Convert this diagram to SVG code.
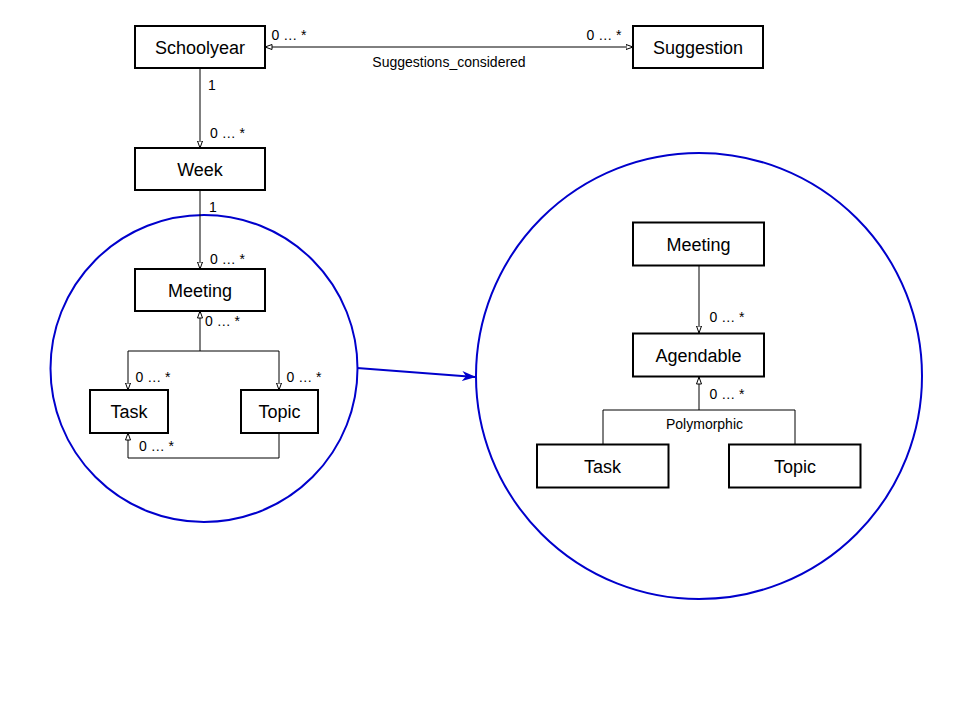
<svg xmlns="http://www.w3.org/2000/svg" width="975" height="719" viewBox="0 0 975 719">
<style>
.box{fill:#fff;stroke:#000;stroke-width:2}
.name{font-family:"Liberation Sans",Arial,sans-serif;font-size:18px;fill:#000;text-anchor:middle}
.lbl{font-family:"Liberation Sans",Arial,sans-serif;font-size:14px;fill:#000}
.conn{fill:none;stroke:#000;stroke-width:1}
.blue{fill:none;stroke:#0000cc;stroke-width:2}
</style>
<defs>
<marker id="open" viewBox="0 0 8 6" refX="7.5" refY="3" markerWidth="8" markerHeight="6" markerUnits="userSpaceOnUse" orient="auto-start-reverse">
<path d="M0.5,0.5 L7.5,3 L0.5,5.5 z" fill="#fff" stroke="#000" stroke-width="1"/>
</marker>
<marker id="blueArrow" viewBox="0 0 14 10" refX="13" refY="5" markerWidth="14" markerHeight="10" markerUnits="userSpaceOnUse" orient="auto">
<path d="M0,0 L14,5 L0,10 L4,5 z" fill="#0000cc"/>
</marker>
</defs>
<rect width="975" height="719" fill="#fff"/>
<g id="zoom">
<circle id="circle-left" class="blue" cx="204" cy="368.5" r="153.5"/>
<circle id="circle-right" class="blue" cx="699" cy="376" r="223"/>
<line class="blue" x1="357" y1="368" x2="475" y2="377" marker-end="url(#blueArrow)"/>
</g>
<g id="connectors">
<line class="conn" x1="265" y1="47" x2="633" y2="47" marker-start="url(#open)" marker-end="url(#open)"/>
<line class="conn" x1="200" y1="68" x2="200" y2="148" marker-end="url(#open)"/>
<line class="conn" x1="200" y1="190" x2="200" y2="269" marker-end="url(#open)"/>
<path class="conn" d="M200,351 L200,311" marker-end="url(#open)"/>
<path class="conn" d="M200,351 L128,351 L128,390" marker-end="url(#open)"/>
<path class="conn" d="M200,351 L279,351 L279,390" marker-end="url(#open)"/>
<path class="conn" d="M279,433 L279,458 L128,458 L128,433" marker-end="url(#open)"/>
<path class="conn" d="M699,266 L699,333" marker-end="url(#open)"/>
<path class="conn" d="M699,410 L699,377" marker-end="url(#open)"/>
<path class="conn" d="M603,444 L603,410 L795,410 L795,444"/>
<text class="lbl" x="271.5" y="40">0 … *</text>
<text class="lbl" x="586.5" y="40">0 … *</text>
<text class="lbl" x="449" y="66.5" text-anchor="middle">Suggestions_considered</text>
<text class="lbl" x="208" y="90">1</text>
<text class="lbl" x="210" y="138">0 … *</text>
<text class="lbl" x="209" y="212">1</text>
<text class="lbl" x="210" y="264">0 … *</text>
<text class="lbl" x="205" y="326">0 … *</text>
<text class="lbl" x="135.5" y="382">0 … *</text>
<text class="lbl" x="286.5" y="382">0 … *</text>
<text class="lbl" x="139" y="451">0 … *</text>
<text class="lbl" x="709.5" y="322">0 … *</text>
<text class="lbl" x="709.5" y="398.5">0 … *</text>
<text class="lbl" x="704.5" y="428.5" text-anchor="middle">Polymorphic</text>
</g>
<g id="schoolyear"><rect class="box" x="135" y="26" width="130" height="42"/><text class="name" x="200" y="54">Schoolyear</text></g>
<g id="suggestion"><rect class="box" x="633" y="26" width="130" height="42"/><text class="name" x="698" y="54">Suggestion</text></g>
<g id="week"><rect class="box" x="135" y="148" width="130" height="42"/><text class="name" x="200" y="176">Week</text></g>
<g id="meeting-left"><rect class="box" x="135" y="269" width="130" height="42"/><text class="name" x="200" y="297">Meeting</text></g>
<g id="task-left"><rect class="box" x="90" y="390" width="78" height="43"/><text class="name" x="129" y="418">Task</text></g>
<g id="topic-left"><rect class="box" x="241" y="390" width="77" height="43"/><text class="name" x="279.5" y="418">Topic</text></g>
<g id="meeting-right"><rect class="box" x="633" y="222.5" width="131" height="43"/><text class="name" x="698.5" y="251">Meeting</text></g>
<g id="agendable"><rect class="box" x="633" y="333.5" width="131" height="43"/><text class="name" x="698.5" y="362">Agendable</text></g>
<g id="task-right"><rect class="box" x="537" y="444.5" width="131.5" height="43"/><text class="name" x="602.5" y="473">Task</text></g>
<g id="topic-right"><rect class="box" x="729" y="444.5" width="131.5" height="43"/><text class="name" x="795" y="473">Topic</text></g>
</svg>
